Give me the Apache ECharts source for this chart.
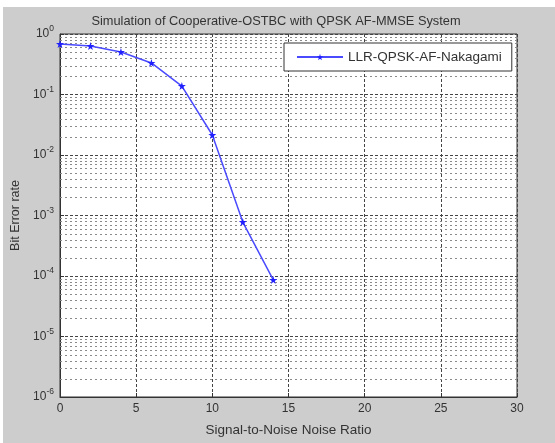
<!DOCTYPE html>
<html>
<head>
<meta charset="utf-8">
<script src="https://cdn.jsdelivr.net/npm/echarts@6/dist/echarts.min.js"></script>
<style>
  html, body { margin: 0; padding: 0; background: #fff; }
  #chart { width: 555px; height: 443px; }
</style>
</head>
<body>
<div id="chart"></div>
<script>
// SNR (dB) and BER values
const snr = [0, 2, 4, 6, 8, 10, 12, 14]
const ber = [0.684, 0.634, 0.504, 0.332, 0.138, 0.0214, 0.00078, 0.000086]
const seriesName = 'LLR-QPSK-AF-Nakagami'

// minor grid values of the log axis (2..9 per decade)
const minorGrid = []
for (let e = -6; e < 0; e++) {
  for (let m = 2; m <= 9; m++) minorGrid.push(m * Math.pow(10, e))
}

const font = 'Liberation Sans, Arial, sans-serif'
const starPath = 'path://M50,0 L61,35 L98,35 L68,57 L79,91 L50,70 L21,91 L32,57 L2,35 L39,35 Z'

let myChart = echarts.init(document.getElementById('chart'))
myChart.setOption({
  animation: false,
  backgroundColor: '#fff',
  textStyle: { fontFamily: font },
  graphic: [{
    type: 'rect',
    z: -10,
    shape: { x: 3, y: 7, width: 552, height: 436 },
    style: { fill: '#cdcdcd' }
  }],
  title: {
    text: 'Simulation of Cooperative-OSTBC with QPSK AF-MMSE System',
    left: 271,
    textAlign: 'center',
    top: 10,
    textStyle: { fontSize: 12.8, fontWeight: 'normal', color: '#333', fontFamily: font }
  },
  legend: {
    data: [seriesName],
    left: 284,
    top: 43,
    itemWidth: 46,
    itemHeight: 8,
    itemGap: 6,
    padding: [7, 10, 7, 12],
    backgroundColor: '#fff',
    borderColor: '#333',
    borderWidth: 1,
    textStyle: { fontSize: 13.5, color: '#333', fontFamily: font }
  },
  grid: {
    left: 60,
    right: 38,
    top: 34,
    bottom: 46,
    show: true,
    backgroundColor: '#fff',
    borderColor: '#333',
    borderWidth: 1
  },
  xAxis: {
    type: 'value',
    min: 0,
    max: 30,
    interval: 5,
    name: 'Signal-to-Noise Noise Ratio',
    nameLocation: 'middle',
    nameGap: 26,
    nameTextStyle: { fontSize: 13.5, color: '#333', fontFamily: font },
    axisLine: { lineStyle: { color: '#333' } },
    axisTick: { inside: true, length: 4, lineStyle: { color: '#333' } },
    axisLabel: { fontSize: 12, color: '#333', margin: 6 },
    splitLine: { show: true, lineStyle: { color: '#444', type: [3, 2], width: 1 } }
  },
  yAxis: {
    type: 'log',
    logBase: 10,
    min: 1e-6,
    max: 1,
    name: 'Bit Error rate',
    nameLocation: 'middle',
    nameGap: 38,
    nameTextStyle: { fontSize: 12.5, color: '#333', fontFamily: font },
    axisLine: { lineStyle: { color: '#333' } },
    axisTick: { inside: true, length: 4, lineStyle: { color: '#333' } },
    axisLabel: {
      margin: 6,
      formatter: function (v) {
        const e = Math.round(Math.log10(v))
        return '{b|10}{s|' + e + '}'
      },
      rich: {
        b: { fontSize: 12, color: '#333' },
        s: { fontSize: 8.5, color: '#333', padding: [0, 0, 10, 0] }
      }
    },
    splitLine: { show: true, lineStyle: { color: '#444', type: [3, 2], width: 1 } }
  },
  series: [{
    type: 'custom',
    name: 'minor',
    silent: true,
    z: 1,
    data: minorGrid,
    renderItem: (params, api) => {
      const v = api.value(0)
      const a = api.coord([0, v])
      const b = api.coord([30, v])
      return {
        type: 'line',
        shape: { x1: a[0], y1: Math.round(a[1]) + 0.5, x2: b[0], y2: Math.round(b[1]) + 0.5 },
        style: { stroke: '#8a8a8a', lineWidth: 1, lineDash: [2, 3] }
      }
    },
    encode: { y: 0 }
  }, {
    type: 'line',
    name: seriesName,
    z: 5,
    data: snr.map((x, i) => [x, ber[i]]),
    symbol: starPath,
    symbolSize: 8,
    lineStyle: { color: '#4a4aff', width: 1.5 },
    itemStyle: { color: '#2020ff' }
  }]
})
</script>
</body>
</html>
